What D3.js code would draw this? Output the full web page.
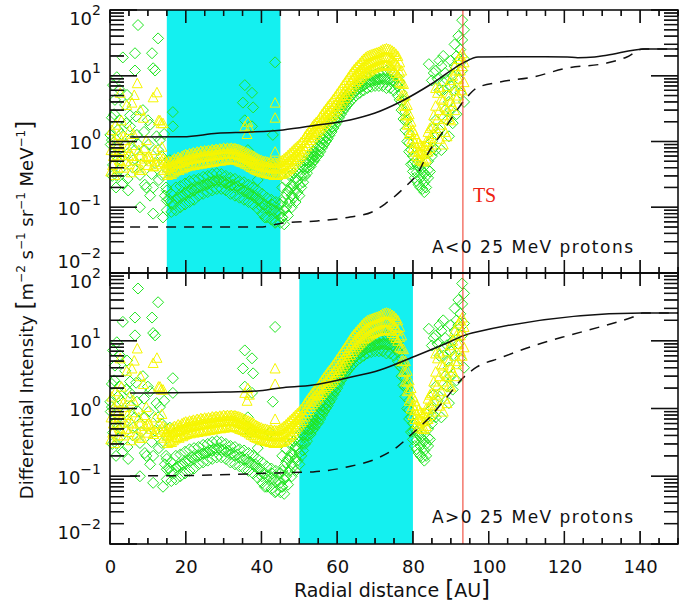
<!DOCTYPE html>
<html>
<head>
<meta charset="utf-8">
<script src="https://cdn.jsdelivr.net/npm/d3@7/dist/d3.min.js"></script>
</head>
<body style="margin:0">
<svg id="chart" width="695" height="605" font-family="DejaVu Sans, sans-serif"></svg>
<script>
// radial distance [AU], intensity
var xLabels = [0, 20, 40, 60, 80, 100, 120, 140]
var decades = [-2, -1, 0, 1, 2]
var bandA = [15, 45]
var bandB = [50, 80]
var tsR = 93.2

var solidA = [[5.3,1.17],[19.3,1.18],[28.3,1.33],[37,1.39],[45.7,1.5],[54.7,1.78],[63.4,2.12],[70,2.71],
  [76.6,3.99],[85.3,7.76],[93.2,15.6],[97.2,19.3],[115,19.5],[120.7,19.3],[123.5,18.8],[128,19.3],
  [131.2,20.5],[141.3,25.5],[150,25.5]]
var dashedA = [[5.3,0.05],[39.6,0.05],[45.7,0.0575],[54.7,0.0618],[63.4,0.0711],[69.2,0.0848],[72.6,0.112],
  [77.9,0.203],[81.3,0.332],[84,0.668],[87.7,1.35],[91.1,2.71],[94.3,4.75],[96.9,6.52],[103,8.04],
  [111.7,9.58],[120.7,13.1],[131.2,15.6],[136.5,19.3],[140.7,25.5],[150,25.5]]
var solidB = [[5.3,1.69],[29.8,1.75],[38.8,1.81],[44.9,2.01],[53.6,2.22],[62.6,2.82],[71.3,3.7],[80,5.75],
  [89,9.26],[93.2,11.8],[95.6,13],[140.7,25.7],[150,25.7]]
var dashedB = [[5.3,0.101],[26.4,0.104],[44.1,0.112],[53.6,0.116],[62.6,0.137],[71.3,0.192],[75.8,0.27],
  [80,0.435],[84.5,0.75],[89,1.48],[93.2,2.82],[96.9,4.1],[103,5.56],[111.7,8.37],[120.7,11.8],
  [129.4,16],[138.1,22.4],[140.7,25.7],[150,25.7]]

// green diamonds
var green = [
  [7.4,59],[12.7,37],[6.6,22],[11.1,22],[3.4,19],[11.4,13],[11.9,12],[6.6,12],[1.8,9.5],[0.8,7.2],[2.6,6.1],
  [4.5,5.1],[1.3,4.3],[4,3.6],[8.7,3],[16.6,2.8],[5.3,2.5],[0.5,2.3],[10.6,1.8],[5.3,1.7],[16.6,1.7],[2.1,1.5],
  [7.1,1.26],[13.2,1.05],[0.5,1.05],[4,0.88],[9.2,0.74],[1.3,0.62],[6.1,0.52],[11.9,0.47],[2.6,0.37],[7.9,0.31],
  [1.8,0.3],[3.4,0.23],[11.4,0.2],[10.6,0.15],[14.5,0.15],[7.9,0.1],[11.4,0.08],[14,0.07],[4.8,0.18],[9.2,0.22],
  [6.6,0.74],[0.8,0.44],[12.7,0.74],[2.6,2.1],[0.1,1.26],[10,2.1],[13.7,0.31],[15.8,0.52],
  [0.2,0.9],[0.6,0.3],[1.1,2.6],[1.6,0.2],[2.4,0.55],[3,1.3],[3.6,0.6],[4.3,1.9],[4.6,0.27],[5.5,1.1],[6,0.4],
  [6.9,2.4],[7.5,0.9],[8.2,0.45],[9,1.4],[9.6,0.2],[10.2,0.9],[11,0.32],[12.3,1.2],[12.9,0.26],[13.6,0.6],
  [14.3,1.3],[14.8,0.2],
  [15,0.18],[15,0.09],[15.6,0.13],[16.2,0.16],[16.2,0.085],[16.8,0.11],[17.4,0.2],[17.4,0.09],[18,0.14],
  [18.6,0.21],[18.6,0.1],[19.2,0.15],[19.8,0.23],[19.8,0.11],[20.4,0.17],[21,0.25],[21,0.12],[21.6,0.19],
  [22.2,0.26],[22.2,0.13],[22.8,0.2],[23.4,0.27],[23.4,0.15],[24,0.21],[24.6,0.29],[24.6,0.16],[25.2,0.22],
  [25.8,0.3],[25.8,0.17],[26.4,0.24],[27,0.32],[27,0.18],[27.6,0.25],[28.2,0.33],[28.2,0.19],[28.8,0.26],
  [29.4,0.32],[29.4,0.19],[30,0.25],[30.6,0.3],[30.6,0.18],[31.2,0.24],[31.8,0.28],[31.8,0.16],[32.4,0.22],
  [33,0.27],[33,0.15],[33.6,0.21],[34.2,0.25],[34.2,0.14],[34.8,0.19],[35.4,0.24],[35.4,0.13],[36,0.18],
  [36.6,0.22],[36.6,0.12],[37.2,0.16],[37.8,0.2],[37.8,0.11],[38.4,0.15],[39,0.18],[39,0.095],[39.6,0.13],
  [40.2,0.16],[40.2,0.08],[40.8,0.11],[41.4,0.14],[41.4,0.07],[42,0.1],[42.6,0.13],[42.6,0.065],[43.2,0.09],
  [43.8,0.12],[43.8,0.06],[44.4,0.085],[45,0.11],[45,0.058],
  [15,0.127],[16.2,0.117],[17.4,0.134],[18.6,0.145],[19.8,0.16],[21,0.17],[22.2,0.18],[23.4,0.2],[24.6,0.215],
  [25.8,0.225],[27,0.24],[28.2,0.25],[29.4,0.245],[30.6,0.23],[31.8,0.21],[33,0.2],[34.2,0.19],[35.4,0.175],
  [36.6,0.16],[37.8,0.148],[39,0.13],[40.2,0.113],[41.4,0.1],[42.6,0.092],[43.8,0.085],[45,0.08],
  [35.6,7.2],[37.5,5.5],[35.1,3.9],[37.8,3.3],[35.6,2.1],[37.5,1.7],[43,1.26],[43.6,16],[36.4,0.74],[42.2,0.44],
  [38.3,0.14],[40.1,0.1],[42.8,0.11],[40.9,0.07],[43.6,0.058],[45.4,0.07],[39,0.26],[37,0.44],
  [45.5,0.2],[45.5,0.07],[46,0.14],[46,0.09],[46,0.055],[46.5,0.25],[46.5,0.1],[47,0.18],[47,0.075],[47.5,0.3],
  [47.5,0.12],[48,0.22],[48,0.1],[48.5,0.33],[48.5,0.14],[49,0.27],[49,0.12],[49.5,0.38],[49.5,0.17],[50,0.32],
  [50,0.15],[50.5,0.44],[50.5,0.2],[51,0.4],[51,0.24],[51.5,0.5],[51.5,0.3],[52,0.48],[52,0.33],[52.5,0.6],
  [52.5,0.4],[53,0.58],[53,0.42],[53.5,0.7],[53.5,0.48],[54,0.7],[54,0.52],[54.5,0.8],[54.5,0.58],[55,0.85],
  [55,0.62],[55.5,1],[55.5,0.7],[56,1.1],[56,0.8],[56.5,1.3],[56.5,0.9],[57,1.4],[57,1],[57.5,1.6],[57.5,1.1],
  [58,1.8],[58,1.25],[58.5,2],[58.5,1.4],[59,2.3],[59,1.6],[59.5,2.6],[59.5,1.8],[60,2.9],[60,2],[60.5,3.3],
  [60.5,2.3],[61,3.7],[61,2.6],[61.5,4.1],[61.5,2.9],[62,4.6],[62,3.2],[62.5,5],[62.5,3.5],[63,5.4],[63,3.8],
  [63.5,5.8],[63.5,4.1],[64,6.2],[64,4.4],[65,7],[65,5],[66,7.8],[66,5.5],[67,8.5],[67,6],[68,9.5],[68,6.5],
  [69,10],[69,6.8],[70,10.5],[70,7],[71,11],[71,7],[72,11.5],[72,7],[73,12],[73,6.5],[74,12],[74,6.5],[75,11],
  [75,6],[76,9.5],[76,5],[76.5,8],[76.5,4.3],[77,5.5],[77,3],[77.5,4.3],[77.5,2.2],[78,2.8],[78,1.5],[78.5,2.1],
  [78.5,1],[79,1.3],[79,0.7],[79.5,0.75],[79.5,0.45],[80,0.6],[80,0.35],[80.5,0.5],[80.5,0.28],[81,0.45],
  [81,0.25],[81.5,0.42],[81.5,0.22],[82,0.38],[82,0.2],[82.5,0.35],[82.5,0.19],[83,0.33],[83,0.17],[83.5,0.3],
  [83.5,0.2],[84,0.5],[84,0.28],[84.5,0.7],[84.5,0.35],
  [45.5,0.12],[46.5,0.16],[47,0.115],[47.5,0.19],[48,0.15],[48.5,0.21],[49,0.18],[49.5,0.25],[50,0.22],
  [50.5,0.3],[51,0.31],[51.5,0.39],[52,0.4],[52.5,0.49],[53,0.5],[53.5,0.58],[54,0.6],[54.5,0.68],[55,0.73],
  [55.5,0.84],[56,0.94],[56.5,1.08],[57,1.18],[57.5,1.33],[58,1.5],[58.5,1.67],[59,1.92],[59.5,2.16],[60,2.4],
  [60.5,2.75],[61,3.1],[61.5,3.45],[62,3.85],[62.5,4.2],[63,4.5],[63.5,4.9],[64,5.2],[64.5,5.6],[65,5.9],
  [65.5,6.3],[66,6.5],[66.5,6.9],[67,7.1],[67.5,7.5],[68,7.9],[68.5,8.1],[69,8.2],[69.5,8.4],[70,8.6],
  [70.5,8.7],[71,8.8],[71.5,8.9],[72,9],[72.5,8.9],[73,8.8],[73.5,8.8],[74,8.8],[74.5,8.5],[75,8.1],[75.5,7.5],
  [76,6.9],[77,4],[78,2.05],[79,0.95],[80,0.46],[81,0.34],[82,0.28],[83,0.24],[84,0.37],
  [84.2,15],[85,8.5],[85.5,11],[85,1],[85,0.6],[85.5,1.6],[85.5,0.8],[86,2.1],[86,0.74],[86,12],[86.5,1.3],
  [86.5,9],[87,17],[87,6],[87,1.5],[87.5,14],[87.5,0.74],[88,20],[88,8],[88,6],[88.5,11],[88.5,3],[89,8.6],
  [89,2.1],[89,5],[89.5,4],[89.5,1.2],[90,17],[90,3],[90,7],[90.5,10],[90.5,1.9],[91,30],[91,6],[91,14],
  [91.5,20],[91.5,2.6],[92,40],[92,9],[92,17],[92.5,25],[92.5,5.5],[93,70],[93,35],[93,12],[93.5,50],
  [93.5,18],[93.5,4]
]

// yellow triangles
var yellow = [
  [0.2,0.35],[0.3,0.74],[0.5,1.5],[0.7,0.44],[0.9,0.6],[1,1.05],[1.2,0.31],[1.4,0.95],[1.5,1.8],[1.8,0.62],
  [2,0.88],[2.1,0.4],[2.3,1.26],[2.6,0.52],[2.7,5.5],[2.8,0.7],[3,2.1],[3.3,0.74],[3.5,1.2],[3.6,0.4],[4,1.05],
  [4.2,0.5],[4.4,3.6],[4.6,0.8],[4.8,0.62],[5,0.45],[5.2,1.5],[5.6,0.34],[5.8,3.9],[5.8,0.6],[6,0.88],[6.2,1.3],
  [6.4,5.1],[6.8,0.52],[7,0.4],[7.2,7.7],[7.6,0.74],[7.9,0.37],[7.9,0.6],[8,3],[8.4,0.37],[8.8,2.3],[9,0.8],
  [9.2,0.55],[9.6,1.05],[9.8,0.58],[10,0.44],[10.2,0.6],[10.6,0.58],[11,0.5],[11.4,4.7],[11.4,0.42],[11.6,0.42],
  [12,0.74],[12.2,0.45],[12.4,5.6],[12.8,2.1],[13,0.6],[13.2,0.49],[13.2,2.1],[13.5,1.9],[13.7,0.83],[14,0.55],
  [14,1.9],[14.2,0.37],[14.6,0.52],[14.8,0.45],
  [15,0.47],[15.25,0.31],[15.5,0.5],[15.75,0.33],[16,0.49],[16.25,0.32],[16.5,0.52],[16.75,0.34],[17,0.55],
  [17.25,0.36],[17.5,0.54],[17.75,0.38],[18,0.58],[18.25,0.37],[18.5,0.56],[18.75,0.4],[19,0.6],[19.25,0.39],
  [19.5,0.62],[19.75,0.41],[20,0.64],[20.25,0.42],[20.5,0.62],[20.75,0.44],[21,0.66],[21.25,0.43],[21.5,0.65],
  [21.75,0.45],[22,0.68],[22.25,0.44],[22.5,0.66],[22.75,0.46],[23,0.7],[23.25,0.45],[23.5,0.68],[23.75,0.47],
  [24,0.72],[24.25,0.46],[24.5,0.7],[24.75,0.48],[25,0.73],[25.25,0.47],[25.5,0.71],[25.75,0.49],[26,0.74],
  [26.25,0.48],[26.5,0.72],[26.75,0.5],[27,0.76],[27.25,0.49],[27.5,0.74],[27.75,0.5],[28,0.77],[28.25,0.51],
  [28.5,0.75],[28.75,0.52],[29,0.78],[29.25,0.51],[29.5,0.76],[29.75,0.53],[30,0.8],[30.25,0.52],[30.5,0.77],
  [30.75,0.54],[31,0.8],[31.25,0.53],[31.5,0.78],[31.75,0.55],[32,0.8],[32.25,0.54],[32.5,0.78],[32.75,0.55],
  [33,0.79],[33.25,0.53],[33.5,0.77],[33.75,0.52],[34,0.76],[34.25,0.5],[34.5,0.74],[34.75,0.49],[35,0.72],
  [35.25,0.48],[35.5,0.7],[35.75,0.46],[36,0.68],[36.25,0.45],[36.5,0.66],[36.75,0.43],[37,0.64],[37.25,0.41],
  [37.5,0.62],[37.75,0.4],[38,0.6],[38.25,0.38],[38.5,0.57],[38.75,0.37],[39,0.55],[39.25,0.36],[39.5,0.53],
  [39.75,0.35],[40,0.52],[40.25,0.34],[40.5,0.5],[40.75,0.34],[41,0.5],[41.25,0.33],[41.5,0.49],[41.75,0.33],
  [42,0.48],[42.25,0.32],[42.5,0.49],[42.75,0.32],[43,0.47],[43.25,0.31],[43.5,0.48],[43.75,0.31],[44,0.47],
  [44.25,0.31],[44.5,0.48],[44.75,0.32],[45,0.5],[45.25,0.32],[45.5,0.52],[45.75,0.33],[46,0.55],[46.25,0.34],
  [46.5,0.58],[46.75,0.36],[47,0.62],[47.25,0.38],[47.5,0.66],[47.75,0.4],
  [15,0.39],[15.5,0.41],[16,0.41],[16.5,0.43],[17,0.45],[17.5,0.46],[18,0.47],[18.5,0.48],[19,0.49],[19.5,0.5],
  [20,0.52],[20.5,0.53],[21,0.54],[21.5,0.55],[22,0.55],[22.5,0.56],[23,0.57],[23.5,0.57],[24,0.58],[24.5,0.59],
  [25,0.59],[25.5,0.6],[26,0.6],[26.5,0.61],[27,0.62],[27.5,0.62],[28,0.63],[28.5,0.63],[29,0.64],[29.5,0.64],
  [30,0.65],[30.5,0.65],[31,0.66],[31.5,0.66],[32,0.66],[32.5,0.66],[33,0.65],[33.5,0.64],[34,0.62],[34.5,0.61],
  [35,0.59],[35.5,0.58],[36,0.56],[36.5,0.54],[37,0.52],[37.5,0.5],[38,0.48],[38.5,0.46],[39,0.45],[39.5,0.44],
  [40,0.43],[40.5,0.42],[41,0.41],[41.5,0.41],[42,0.4],[42.5,0.4],[43,0.39],[43.5,0.39],[44,0.39],[44.5,0.39],
  [45,0.4],[45.5,0.42],[46,0.44],[46.5,0.46],[47,0.49],[47.5,0.52],
  [43.6,3.9],[43.6,2.3],[36.4,2],[35.6,1.7],[43.6,0.7],[36.2,1.3],[36.8,1.6],
  [48,0.7],[48,0.42],[48.5,0.75],[48.5,0.46],[49,0.8],[49,0.5],[49.5,0.85],[49.5,0.54],[50,0.9],[50,0.58],
  [50.5,0.98],[50.5,0.63],[51,1.05],[51,0.68],[51.5,1.18],[51.5,0.76],[52,1.3],[52,0.85],[52.5,1.42],[52.5,0.95],
  [53,1.55],[53,1.05],[53.5,1.7],[53.5,1.15],[54,1.85],[54,1.25],[54.5,1.98],[54.5,1.35],[55,2.1],[55,1.45],
  [55.5,2.35],[55.5,1.58],[56,2.6],[56,1.7],[56.5,2.85],[56.5,1.85],[57,3.1],[57,2],[57.5,3.4],[57.5,2.15],
  [58,3.7],[58,2.3],[58.5,4],[58.5,2.45],[59,4.4],[59,2.6],[59.5,4.8],[59.5,2.85],[60,5.3],[60,3.1],[60.5,5.8],
  [60.5,3.45],[61,6.4],[61,3.8],[61.5,7.1],[61.5,4.2],[62,7.8],[62,4.6],[62.5,8.6],[62.5,5.1],[63,9.5],[63,5.6],
  [63.5,10.5],[63.5,6.2],[64,11.5],[64,6.8],[64.5,12.5],[64.5,7.4],[65,13.5],[65,8],[65.5,14.5],[65.5,8.6],
  [66,15.5],[66,9.2],[66.5,16.8],[66.5,9.8],[67,18],[67,10.5],[67.5,19],[67.5,11],[68,20],[68,11.5],[68.5,20.5],
  [68.5,12],[69,21],[69,12.5],[69.5,21.5],[69.5,13],[70,22],[70,13.5],[70.5,22.5],[70.5,13.8],[71,23],[71,14],
  [71.5,24],[71.5,14.2],[72,25],[72,14.5],[72.5,25.5],[72.5,14.8],[73,26],[73,15],[73.5,25.5],[73.5,14.5],
  [74,25],[74,14],[74.5,24],[74.5,13],[75,23],[75,12],[75.5,21.5],[75.5,11],[76,20],[76,10],[76.5,16],[76.5,8],
  [77,12],[77,5],[77.5,7.5],[77.5,3.5],[78,5],[78,2.5],[78.5,3.6],[78.5,1.8],[79,2.6],[79,1.3],[79.5,2],[79.5,1],
  [80,1.5],[80,0.8],[80.5,1.3],[80.5,0.7],[81,1.1],[81,0.6],[81.5,0.95],[81.5,0.55],[82,0.9],[82,0.52],
  [82.5,0.85],[82.5,0.5],[83,0.85],[83,0.5],[83.5,1],[83.5,0.55],[84,1.4],[84,0.7],[84.5,1.6],[84.5,0.8],
  [48,0.54],[48.5,0.59],[49,0.63],[49.5,0.68],[50,0.72],[50.5,0.78],[51,0.85],[51.5,0.95],[52,1.05],[52.5,1.16],
  [53,1.28],[53.5,1.4],[54,1.52],[54.5,1.63],[55,1.75],[55.5,1.93],[56,2.1],[56.5,2.3],[57,2.5],[57.5,2.7],
  [58,2.9],[58.5,3.1],[59,3.4],[59.5,3.7],[60,4.05],[60.5,4.45],[61,4.9],[61.5,5.45],[62,6],[62.5,6.6],[63,7.3],
  [63.5,8.1],[64,8.8],[64.5,9.6],[65,10.4],[65.5,11.2],[66,11.9],[66.5,12.8],[67,13.7],[67.5,14.5],[68,15.2],
  [68.5,15.7],[69,16.2],[69.5,16.7],[70,17.2],[70.5,17.6],[71,17.9],[71.5,18.5],[72,19],[72.5,19.4],[73,19.7],
  [73.5,19.2],[74,18.7],[74.5,17.7],[75,16.6],[75.5,15.4],[76,14.1],[76.5,11.3],[77,7.7],[77.5,5.1],[78,3.5],
  [78.5,2.5],[79,1.85],[79.5,1.4],[80,1.1],[80.5,0.95],[81,0.81],[81.5,0.72],[82,0.68],[82.5,0.65],[83,0.65],
  [83.5,0.74],[84,0.99],[84.5,1.13],
  [85,1.7],[85,0.9],[85.5,2.5],[85.5,1.3],[86,6.5],[86,3.5],[86,1.6],[86.5,5.5],[86.5,2.2],[87,6.7],[87,1.1],
  [87,3],[87.5,4.5],[87.5,1.8],[88,4.3],[88,0.9],[88,2.5],[88.5,3.3],[88.5,1.4],[89,3],[89,1.2],[89,7],[89.5,5],
  [89.5,2.2],[90,8.6],[90,2.1],[90,4],[90.5,10],[90.5,3.5],[91,14],[91,3],[91,6],[91.5,12],[91.5,4.5],[92,18],
  [92,5],[92,9],[92.5,20],[92.5,7],[92.5,12],[93,22],[93,6],[93,14],[93.5,16],[93.5,8]
]

var panels = [
  { label: "A<0 25 MeV protons", band: bandA, solid: solidA, dashed: dashedA, top: 10, bottom: 273 },
  { label: "A>0 25 MeV protons", band: bandB, solid: solidB, dashed: dashedB, top: 273, bottom: 544 }
]

var svg = d3.select("#chart")
var xs = d3.scaleLinear().domain([0, 150]).range([110, 678])

var minorY = []
decades.slice(0, 4).forEach(function(e) {
  for (var m = 2; m <= 9; m++) minorY.push(m * Math.pow(10, e))
})
var majorY = decades.map(function(e) { return Math.pow(10, e) })
var majorX = d3.range(0, 151, 20)
var minorX = d3.range(0, 151, 5).filter(function(v) { return v % 20 })

var diamond = "M0,-5.5L5.5,0L0,5.5L-5.5,0Z"
var triangle = "M0,-5L5,4.5L-5,4.5Z"
var seg = d3.line()

// tick segments for one panel: [[x1,y1],[x2,y2]]
function panelTicks(p) {
  var t = []
  majorX.forEach(function(v) {
    t.push([[xs(v), p.bottom], [xs(v), p.bottom - 13]])
    t.push([[xs(v), p.top], [xs(v), p.top + 13]])
  })
  minorX.forEach(function(v) {
    t.push([[xs(v), p.bottom], [xs(v), p.bottom - 6]])
    t.push([[xs(v), p.top], [xs(v), p.top + 6]])
  })
  majorY.forEach(function(v) {
    t.push([[xs(0), p.ys(v)], [xs(0) + 27, p.ys(v)]])
    t.push([[xs(150), p.ys(v)], [xs(150) - 27, p.ys(v)]])
  })
  minorY.forEach(function(v) {
    t.push([[xs(0), p.ys(v)], [xs(0) + 14, p.ys(v)]])
    t.push([[xs(150), p.ys(v)], [xs(150) - 14, p.ys(v)]])
  })
  return t
}

panels.forEach(function(p, i) {
  var ys = d3.scaleLog().domain([0.01, 100]).range([p.bottom, p.top])
  p.ys = ys
  var plot = svg.append("g")

  plot.append("rect")
    .attr("x", xs(p.band[0])).attr("y", p.top)
    .attr("width", xs(p.band[1]) - xs(p.band[0]))
    .attr("height", p.bottom - p.top)
    .attr("fill", "#14f0f0")

  plot.selectAll("path.dia").data(green).join("path")
    .attr("class", "dia")
    .attr("d", diamond)
    .attr("transform", function(d) { return "translate(" + xs(d[0]) + "," + ys(d[1]) + ")" })
    .attr("fill", "none").attr("stroke", "#22e622").attr("stroke-width", 1)

  plot.selectAll("path.tri").data(yellow).join("path")
    .attr("class", "tri")
    .attr("d", triangle)
    .attr("transform", function(d) { return "translate(" + xs(d[0]) + "," + ys(d[1]) + ")" })
    .attr("fill", "none").attr("stroke", "#f6f600").attr("stroke-width", 1)

  var curve = d3.line()
    .x(function(d) { return xs(d[0]) })
    .y(function(d) { return ys(d[1]) })
    .curve(d3.curveMonotoneX)

  plot.append("path").attr("d", curve(p.solid))
    .attr("fill", "none").attr("stroke", "#111").attr("stroke-width", 1.5)
  plot.append("path").attr("d", curve(p.dashed))
    .attr("fill", "none").attr("stroke", "#111").attr("stroke-width", 1.5)
    .attr("stroke-dasharray", "10,8")

  // ticks as short line paths, like the curves
  plot.selectAll("path.tkp").data(panelTicks(p)).join("path")
    .attr("class", "tkp")
    .attr("d", function(d) { return seg(d) })
    .attr("fill", "none").attr("stroke", "#111").attr("stroke-width", 1.3)
})

// termination shock
svg.append("line")
  .attr("x1", xs(tsR)).attr("x2", xs(tsR)).attr("y1", 10).attr("y2", 544)
  .attr("stroke", "#ee3322").attr("stroke-width", 1)
svg.append("text")
  .attr("x", xs(tsR) + 10).attr("y", 202)
  .attr("font-family", "Liberation Serif, serif").attr("font-size", 20)
  .attr("fill", "#ee2211").text("TS")

panels.forEach(function(p, i) {
  var frame = svg.append("g")
  frame.append("rect")
    .attr("x", xs(0)).attr("y", p.top)
    .attr("width", xs(150) - xs(0)).attr("height", p.bottom - p.top)
    .attr("fill", "none").attr("stroke", "#000").attr("stroke-width", 1.5)

  // the same ticks again as thin filled rects
  frame.selectAll("rect.tkr").data(panelTicks(p)).join("rect")
    .attr("class", "tkr")
    .attr("x", function(d) { return Math.min(d[0][0], d[1][0]) - (d[0][0] === d[1][0] ? 0.65 : 0) })
    .attr("y", function(d) { return Math.min(d[0][1], d[1][1]) - (d[0][1] === d[1][1] ? 0.65 : 0) })
    .attr("width", function(d) { return Math.max(Math.abs(d[1][0] - d[0][0]), 1.3) })
    .attr("height", function(d) { return Math.max(Math.abs(d[1][1] - d[0][1]), 1.3) })
    .attr("fill", "#111")

  decades.forEach(function(e) {
    var off = e === 2 ? 14.5 : (e === -2 ? -5.5 : 7.5)
    var t = frame.append("text")
      .attr("x", 101).attr("y", p.ys(Math.pow(10, e)) + off)
      .attr("text-anchor", "end").attr("font-size", 18).attr("fill", "#111")
    t.append("tspan").text("10")
    t.append("tspan").attr("dy", -10).attr("font-size", 14)
      .text(e < 0 ? "\u2212" + (-e) : String(e))
  })

  frame.append("text")
    .attr("x", 432).attr("y", p.bottom - (i === 0 ? 20 : 21))
    .attr("font-size", 17).attr("fill", "#111")
    .attr("textLength", 201).attr("lengthAdjust", "spacing")
    .text(p.label)
})

// x tick labels under the lower panel
svg.append("g").attr("transform", "translate(0,544)")
  .call(d3.axisBottom(xs).tickValues(xLabels).tickSize(0).tickPadding(16))
  .call(function(s) { s.select(".domain").remove() })
  .selectAll("text")
  .attr("font-size", 18).attr("font-family", "DejaVu Sans, sans-serif").attr("fill", "#111")

// axis titles
var xt = svg.append("text").attr("x", 392).attr("y", 597)
  .attr("text-anchor", "middle").attr("font-size", 19).attr("fill", "#111")
xt.append("tspan").text("Radial distance ")
xt.append("tspan").attr("font-size", 23).text("[")
xt.append("tspan").text("AU")
xt.append("tspan").attr("font-size", 23).text("]")

var yParts = [["Differential Intensity ", 0], ["[", 2], ["m", 0], ["\u22122", 1], [" s", 0], ["\u22121", 1],
  [" sr", 0], ["\u22121", 1], [" MeV", 0], ["\u22121", 1], ["]", 2]]
var yt = svg.append("text")
  .attr("transform", "translate(33,310) rotate(-90)")
  .attr("text-anchor", "middle").attr("font-size", 18).attr("fill", "#111")
var lifted = false
yParts.forEach(function(pt) {
  var ts = yt.append("tspan").text(pt[0])
  if (pt[1] === 1) { ts.attr("dy", -8).attr("font-size", 12); lifted = true }
  else {
    if (lifted) { ts.attr("dy", 8); lifted = false }
    if (pt[1] === 2) ts.attr("font-size", 23)
  }
})
</script>
</body>
</html>
